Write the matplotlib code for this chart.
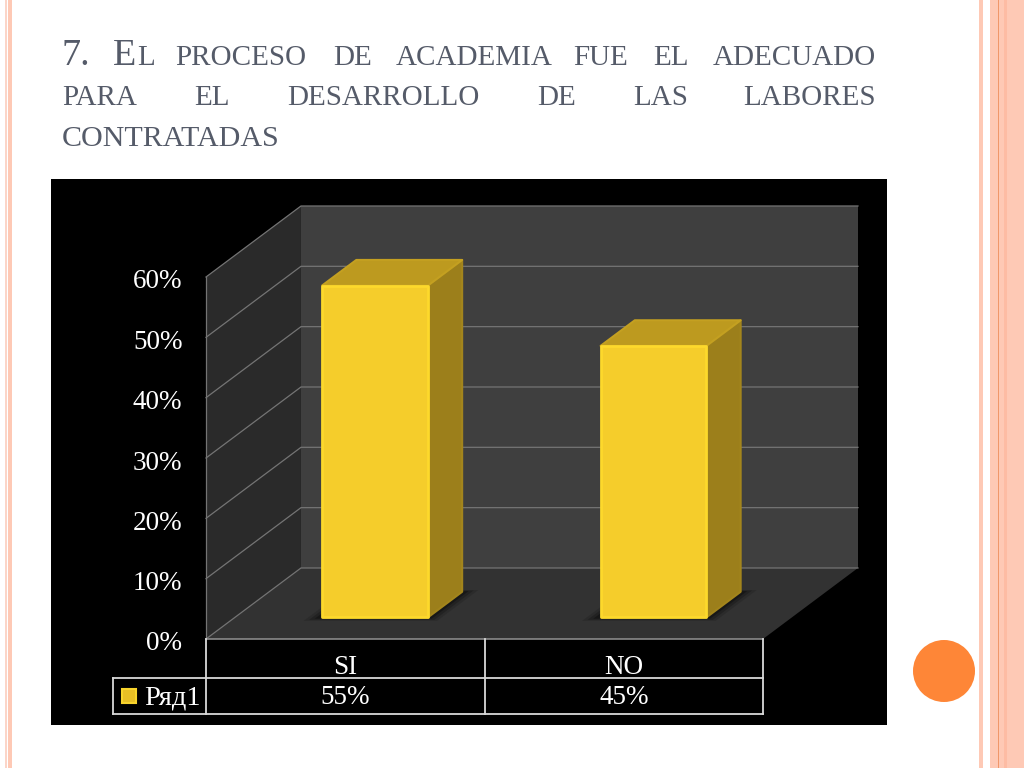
import matplotlib
matplotlib.use('Agg')
import matplotlib.pyplot as plt
from matplotlib.patches import Polygon, Rectangle, Circle
from matplotlib.transforms import ScaledTranslation

categories = ['SI', 'NO']
values = [55, 45]
value_labels = ['55%', '45%']
series_name = 'Ряд1'
y_ticks = [0, 10, 20, 30, 40, 50, 60]
y_tick_labels = ['0%', '10%', '20%', '30%', '40%', '50%', '60%']

# title words: line baseline, text, left edge in pixels
title_words = [(65, '7.', 62), (65, 'EL', 113), (65, 'PROCESO', 175), (65, 'DE', 333),
               (65, 'ACADEMIA', 396), (65, 'FUE', 573), (65, 'EL', 653), (65, 'ADECUADO', 713),
               (105, 'PARA', 62), (105, 'EL', 194), (105, 'DESARROLLO', 287), (105, 'DE', 537),
               (105, 'LAS', 633), (105, 'LABORES', 743),
               (146, 'CONTRATADAS', 62)]

plt.rcParams['font.family'] = ['Liberation Serif', 'DejaVu Serif']
YELLOW = '#f5cd2b'
TITLE_COLOR = '#555b69'

fig = plt.figure(figsize=(10.24, 7.68), dpi=100, facecolor='white')

# slide decoration, in pixel coordinates
bg = fig.add_axes([0, 0, 1, 1], zorder=0)
bg.set_xlim(0, 1024)
bg.set_ylim(768, 0)
bg.axis('off')
for x0, x1, c in [(5, 7, '#fbd5c8'), (8, 12, '#fec9b5'), (979, 983, '#fec9b5'), (990, 998, '#fec9b5'),
                  (998, 999, '#f0976a'), (999, 1004, '#fec9b5'), (1004, 1007, '#fdbca4'),
                  (1007, 1024, '#fec9b5')]:
    bg.add_patch(Rectangle((x0, 0), x1 - x0, 768, fc=c, ec='none'))
bg.add_patch(Rectangle((51, 179), 836, 546, fc='black', ec='none'))
bg.add_patch(Circle((944, 671), 31, fc='#fe8637', ec='none'))


def title_word(x, y, word):
    # small caps: first letter of "El" is bigger
    if word == '7.':
        bg.text(x, y, word, fontsize=27.5, color=TITLE_COLOR, va='baseline')
    elif word == 'EL' and x == 113:
        bg.text(x, y, 'E', fontsize=27.5, color=TITLE_COLOR, va='baseline')
        bg.text(x + 24, y, 'L', fontsize=21, color=TITLE_COLOR, va='baseline')
    elif word == 'CONTRATADAS':
        bg.text(x, y, word, fontsize=21.6, color=TITLE_COLOR, va='baseline')
    else:
        bg.text(x, y, word, fontsize=21, color=TITLE_COLOR, va='baseline')


for y, word, x in title_words:
    title_word(x, y, word)

# chart axes sit on the front plane of the 3D box
ax = fig.add_axes([206 / 1024, (768 - 639) / 768, 557 / 1024, 362 / 768], zorder=1)
ax.set_xlim(0, 2)
ax.set_ylim(0, 60)
ax.patch.set_visible(False)
for s in ax.spines.values():
    s.set_visible(False)
ax.set_xticks([])
ax.set_yticks(y_ticks)
ax.set_yticklabels(y_tick_labels, color='white', fontsize=19.5)
ax.tick_params(axis='y', length=0, pad=17)
shift = ScaledTranslation(0, -2 / 100, fig.dpi_scale_trans)
for lab in ax.get_yticklabels():
    lab.set_transform(lab.get_transform() + shift)

# depth vector of the box
DX = 0.341
DY = 11.77
top = y_ticks[-1]
bar_w = 0.38
near = 0.305
far = 0.665
grid_c = '#747474'


def proj(x, y, d):
    return (x + d * DX, y + d * DY)


def poly(pts, **kw):
    kw.setdefault('clip_on', False)
    p = Polygon(pts, closed=True, **kw)
    ax.add_patch(p)
    return p


# walls and floor
poly([proj(0, 0, 1), proj(2, 0, 1), proj(2, top, 1), proj(0, top, 1)], fc='#3f3f3f', ec='none', zorder=1)
poly([proj(0, 0, 0), proj(0, 0, 1), proj(0, top, 1), proj(0, top, 0)], fc='#2a2a2a', ec='none', zorder=1)
poly([proj(0, 0, 0), proj(2, 0, 0), proj(2, 0, 1), proj(0, 0, 1)], fc='#323232', ec='none', zorder=1)

for t in y_ticks:
    x0, y0 = proj(0, t, 0)
    x1, y1 = proj(0, t, 1)
    x2, y2 = proj(2, t, 1)
    ax.plot([x0, x1, x2], [y0, y1, y2], color=grid_c, lw=0.9, clip_on=False, zorder=2)
ax.plot([0, 0], [0, top], color=grid_c, lw=0.9, clip_on=False, zorder=2)

# bars
for i, v in enumerate(values):
    xl = i + 0.5 - bar_w / 2 + 0.003
    xr = xl + bar_w
    # soft shadow on the floor, a growing copy of the bar footprint
    for g, a in [(0.05, 0.12), (0.035, 0.2), (0.02, 0.3)]:
        poly([proj(xl - g, 0, near - g), proj(xr + g, 0, near - g),
              proj(xr + g, 0, far + g * 0.5), proj(xl - g, 0, far + g * 0.5)],
             fc='black', ec='none', alpha=a, zorder=3)
    poly([proj(xr, 0, near), proj(xr, v, near), proj(xr, v, far), proj(xr, 0, far)],
         fc='#9c7f1b', ec='#a3851c', lw=1.5, joinstyle='round', zorder=4)
    poly([proj(xl, v, near), proj(xr, v, near), proj(xr, v, far), proj(xl, v, far)],
         fc='#bd9a1f', ec='#c4a021', lw=1.5, joinstyle='round', zorder=5)
    poly([proj(xl, 0, near), proj(xr, 0, near), proj(xr, v, near), proj(xl, v, near)],
         fc=YELLOW, ec='#fdd92c', lw=2, joinstyle='round', zorder=6)

# data table under the chart
row1 = -6.5
row2 = -12.4
leg_x = -0.334
tc = '#d9d9d9'
ax.plot([0, 2], [0, 0], color='#8a8a8a', lw=1.2, clip_on=False, zorder=7)
ax.plot([leg_x, 2], [row1, row1], color=tc, lw=1.3, clip_on=False, zorder=7)
ax.plot([leg_x, 2], [row2, row2], color=tc, lw=1.3, clip_on=False, zorder=7)
ax.plot([leg_x, leg_x], [row1, row2], color=tc, lw=1.3, clip_on=False, zorder=7)
for x in [0, 1, 2]:
    ax.plot([x, x], [0, row2], color=tc, lw=1.3, clip_on=False, zorder=7)
for i, (c, lab) in enumerate(zip(categories, value_labels)):
    ax.text(i + 0.5, -4.8, c, color='white', fontsize=19.5, ha='center', va='center', clip_on=False)
    ax.text(i + 0.5, -9.7, lab, color='white', fontsize=19.5, ha='center', va='center', clip_on=False)
ax.add_patch(Rectangle((-0.302, -10.6), 0.05, 2.3, fc='#e8bf25', ec='#f8d42c', lw=1.5, clip_on=False, zorder=8))
ax.text(-0.02, -9.7, series_name, color='white', fontsize=20.5, ha='right', va='center', clip_on=False)

fig.savefig('out.png', dpi=100)
